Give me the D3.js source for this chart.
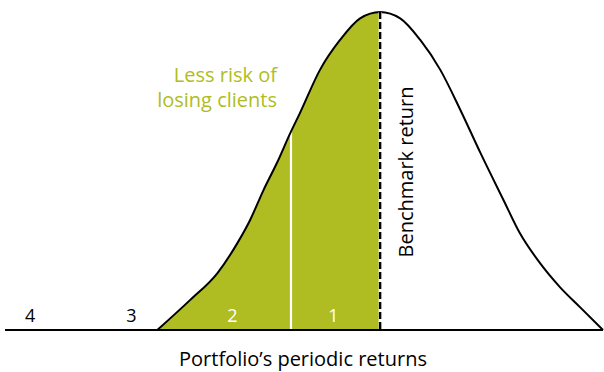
<!DOCTYPE html>
<html>
<head>
<meta charset="utf-8">
<script src="https://cdn.jsdelivr.net/npm/d3@7/dist/d3.min.js"></script>
<style>
  html, body { margin: 0; padding: 0; background: #fff; }
  svg { display: block; }
  text { font-family: "Open Sans", "DejaVu Sans", sans-serif; }
</style>
</head>
<body>
<svg id="chart" width="604" height="372"></svg>
<script>
// Periodic return (in standard units around the benchmark) and relative frequency
const returns = [-3.0, -2.56, -2.19, -1.92, -1.75, -1.57, -1.39, -1.21, -1.08, -0.81, -0.54, -0.27, 0,
                 0.27, 0.54, 0.81, 1.08, 1.35, 1.66, 1.88, 2.15, 2.42, 2.69, 3.0];
const frequency = [0, 0.094, 0.179, 0.274, 0.346, 0.440, 0.525, 0.619, 0.682, 0.818, 0.912, 0.980, 1,
                   0.980, 0.912, 0.818, 0.692, 0.557, 0.409, 0.305, 0.211, 0.135, 0.072, 0];

const benchmarkReturn = 0;
const zoneSplit = -1.2;
const zoneLabels = ["4", "3", "2", "1"];
const zoneCenters = [-4.71, -3.35, -1.99, -0.63];
const calloutLines = ["Less risk of", "losing clients"];
const benchmarkLabel = "Benchmark return";
const axisTitle = "Portfolio\u2019s periodic returns";

const green = "#afbd22";
const svg = d3.select("#chart");

const x = d3.scaleLinear().domain([-5.05, 3]).range([5, 603]);
const y = d3.scaleLinear().domain([0, 1]).range([330, 12]);

const pts = returns.map((r, i) => ({ r, f: frequency[i] }));
const leftPts = pts.filter(d => d.r <= benchmarkReturn);

const area = d3.area().x(d => x(d.r)).y0(y(0)).y1(d => y(d.f)).curve(d3.curveMonotoneX);
const line = d3.line().x(d => x(d.r)).y(d => y(d.f)).curve(d3.curveMonotoneX);

// clip region = the area under the whole curve
svg.append("defs").append("clipPath").attr("id", "under")
  .append("path").attr("d", area(pts));

// shaded region below the benchmark
svg.append("path").attr("d", area(leftPts)).attr("fill", green);

// white divider between zones 1 and 2
svg.append("line")
  .attr("clip-path", "url(#under)")
  .attr("x1", x(zoneSplit)).attr("x2", x(zoneSplit))
  .attr("y1", y(1)).attr("y2", y(0))
  .attr("stroke", "#fff").attr("stroke-width", 2.2);

// distribution outline
svg.append("path").attr("d", line(pts))
  .attr("fill", "none").attr("stroke", "#000").attr("stroke-width", 2);

// benchmark marker
const peak = d3.max(frequency);
svg.append("line")
  .attr("x1", x(benchmarkReturn)).attr("x2", x(benchmarkReturn))
  .attr("y1", y(peak)).attr("y2", y(0))
  .attr("stroke", "#fff").attr("stroke-width", 3);
svg.append("line")
  .attr("x1", x(benchmarkReturn)).attr("x2", x(benchmarkReturn))
  .attr("y1", y(peak)).attr("y2", y(0))
  .attr("stroke", "#000").attr("stroke-width", 2.4)
  .attr("stroke-dasharray", "7,3");

// baseline
svg.append("line")
  .attr("x1", x.range()[0]).attr("x2", x.range()[1])
  .attr("y1", y(0)).attr("y2", y(0))
  .attr("stroke", "#000").attr("stroke-width", 2);

// zone numbers
svg.selectAll("text.zone").data(zoneLabels).join("text")
  .attr("class", "zone")
  .attr("x", (d, i) => x(zoneCenters[i]))
  .attr("y", 322)
  .attr("text-anchor", "middle")
  .attr("font-size", 18)
  .attr("fill", (d, i) => zoneCenters[i] > -3 ? "#fff" : "#000")
  .text(d => d);

// callout
svg.selectAll("text.callout").data(calloutLines).join("text")
  .attr("class", "callout")
  .attr("x", 277)
  .attr("y", (d, i) => 82 + i * 25)
  .attr("text-anchor", "end")
  .attr("font-size", 20)
  .attr("fill", green)
  .text(d => d);

// benchmark label
svg.append("text")
  .attr("transform", `translate(${x(benchmarkReturn) + 33},172) rotate(-90)`)
  .attr("text-anchor", "middle")
  .attr("font-size", 20)
  .attr("fill", "#000")
  .text(benchmarkLabel);

// axis title
svg.append("text")
  .attr("x", 303).attr("y", 366)
  .attr("text-anchor", "middle")
  .attr("font-size", 20)
  .attr("fill", "#000")
  .text(axisTitle);
</script>
</body>
</html>
